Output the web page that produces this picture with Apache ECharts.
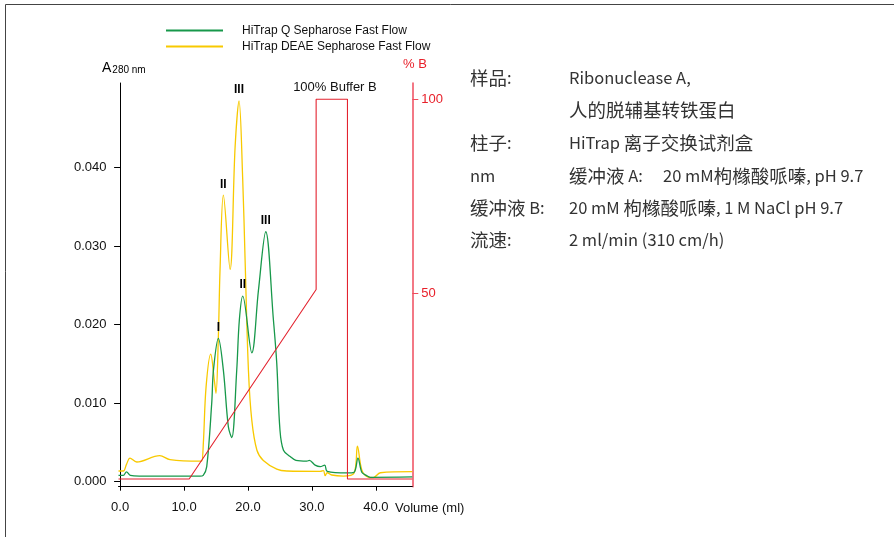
<!DOCTYPE html>
<html><head><meta charset="utf-8">
<script src="https://cdn.jsdelivr.net/npm/echarts@6/dist/echarts.min.js"></script>
<style>html,body{margin:0;padding:0;background:#fff}#c{width:894px;height:537px}</style>
</head><body><div id="c"></div>
<script>
// HiTrap Q Sepharose Fast Flow (green)
const volQ = [-0.25,0.5,1.0,1.6,3,12.5,13.0,13.55,14.33,14.6,15.37,16.15,16.93,17.46,18.24,18.65,19.18,20.6,21.64,22.78,23.98,24.5,25.0,25.55,26.6,27.5,29.2,29.6,30.5,31.3,32.0,32.4,35.5,36.6,37.2,37.8,38.5,39.1,45.7];
const absQ = [0.0008,0.0008,0.00125,0.0008,0.0007,0.0007,0.0008,0.0019,0.0100,0.0142,0.01825,0.0142,0.0070,0.0056,0.0142,0.0206,0.02364,0.01642,0.0244,0.03184,0.0206,0.0151,0.0066,0.0040,0.0032,0.0027,0.0026,0.0027,0.0021,0.0019,0.0021,0.0013,0.0011,0.0012,0.0030,0.0012,0.0008,0.00055,0.0006];
// HiTrap DEAE Sepharose Fast Flow (yellow)
const volDEAE = [-0.25,0.5,1.0,1.55,2.6,6.2,7.8,12.5,12.77,13.02,13.45,14.18,14.74,15.0,15.37,15.63,16.15,17.2,17.99,18.6,19.18,19.55,20.07,20.6,21.4,22.4,24.5,26.07,31.3,31.8,32.07,32.4,33.1,34.9,36.6,37.12,37.8,38.7,39.6,40.7,45.7];
const absDEAE = [0.00135,0.00135,0.0022,0.0030,0.0025,0.0033,0.0028,0.0026,0.0026,0.0049,0.0121,0.01625,0.0129,0.01125,0.0185,0.027,0.0365,0.02705,0.0427,0.04852,0.0384,0.0282,0.0142,0.0078,0.0040,0.0027,0.0016,0.00135,0.0013,0.0014,0.00075,0.00113,0.00084,0.0007,0.0011,0.00453,0.0015,0.0006,0.0005,0.00113,0.00126];
// Gradient %B (red)
const volB = [-0.25,10.8,30.66,30.66,35.56,35.56,45.7];
const pctB = [2.2,2.2,51,100,100,2.2,2.2];
// axis ticks
const xTicks = [0,10,20,30,40];
const yTicks = [0,0.01,0.02,0.03,0.04];
const bTicks = [50,100];
// peak annotations
const peakLabels = ['I','II','III'];
const peakQ = [[15.37,0.01825],[19.18,0.02364],[22.78,0.03184]];
const peakDEAE = [[16.15,0.0365],[18.6,0.04852]];
const peakDEAELabels = ['II','III'];
const seriesNames = ['HiTrap Q Sepharose Fast Flow','HiTrap DEAE Sepharose Fast Flow'];
const infoLabels = ['样品:','','柱子:','nm','缓冲液 B:','流速:'];
const infoValues = ['Ribonuclease A,','人的脱辅基转铁蛋白','HiTrap 离子交换试剂盒','缓冲液 A:','20 mM 枸橼酸哌嗪, 1 M NaCl pH 9.7','2 ml/min (310 cm/h)'];
const bufferAValue = '20 mM枸橼酸哌嗪, pH 9.7';

const GREEN='#17984a', YELLOW='#f8c900', RED='#e3232f', RED_AX='#ef4b5c';
const F='"Liberation Sans", Arial, sans-serif';
const CJK='"Noto Sans CJK SC", "Noto Sans", sans-serif';

const zip=(a,b)=>a.map((v,i)=>[v,b[i]]);
const mpStyle={symbol:'circle',symbolSize:0,label:{show:true,position:'top',distance:5,color:'#000',fontSize:12,fontWeight:'bold',fontFamily:F,formatter:p=>p.name}};

// split text into CJK / latin runs for rich text
const richStyles={c:{fontSize:18.5,fontFamily:CJK,fill:'#333'},l:{fontSize:16.5,fontFamily:CJK,fill:'#333'}};
function toRich(s){
  const re=/[\u3000-\u9fff\uff00-\uffef]+|[^\u3000-\u9fff\uff00-\uffef]+/g;
  return (s.match(re)||[]).map(r=>(/[\u3000-\u9fff\uff00-\uffef]/.test(r)?'{c|':'{l|')+r+'}').join('');
}

const chart = echarts.init(document.getElementById('c'), null, {renderer:'canvas'});
const rowY=[78,110,143,176,208,240];
const graphics=[
  {type:'rect',shape:{x:5.5,y:4.5,width:1000,height:1000},style:{fill:'none',stroke:'#444',lineWidth:1},silent:true},
  {type:'text',left:102,top:61,style:{text:'{a|A}{s|280 nm}',rich:{a:{fontSize:14,fontFamily:F,fill:'#000',verticalAlign:'bottom'},s:{fontSize:10,fontFamily:F,fill:'#000',padding:[6,0,0,1]}}}},
  {type:'text',left:403,top:58,style:{text:'% B',fontSize:13,fontFamily:F,fill:'#e8202a'}},
  {type:'text',left:395,top:502,style:{text:'Volume (ml)',fontSize:13,fontFamily:F,fill:'#111'}},
];
const txt=(x,y,s)=>({type:'text',x:x,y:y,style:{text:toRich(s),rich:richStyles,verticalAlign:'middle',align:'left'}});
infoLabels.forEach((t,i)=>{ if(t) graphics.push(txt(470,rowY[i],t)); });
infoValues.forEach((t,i)=>{ graphics.push(txt(569,rowY[i],t)); });
graphics.push(txt(663,rowY[3],bufferAValue));

chart.setOption({
  animation:false,
  backgroundColor:'#fff',
  grid:{left:118.5,right:481.7,top:83,bottom:50.3,containLabel:false},
  legend:{orient:'vertical',left:160,top:19.5,itemWidth:57,itemHeight:12,itemGap:4,data:seriesNames,
    itemStyle:{opacity:0},
    textStyle:{fontSize:12,fontFamily:F,color:'#111',padding:[0,0,0,14]}},
  xAxis:{type:'value',min:-0.25,max:45.7,
    axisLine:{onZero:false,lineStyle:{color:'#000',width:1}},
    axisTick:{show:true,length:4,customValues:xTicks,lineStyle:{color:'#000'}},
    axisLabel:{customValues:xTicks,formatter:v=>v.toFixed(1),fontSize:13,fontFamily:F,color:'#111',margin:14},
    splitLine:{show:false}},
  yAxis:[
    {type:'value',min:-0.00065,max:0.0508,
      axisLine:{show:true,lineStyle:{color:'#000',width:1}},
      axisTick:{show:true,length:6,customValues:yTicks,lineStyle:{color:'#000'}},
      axisLabel:{customValues:yTicks,formatter:v=>v.toFixed(3),fontSize:13,fontFamily:F,color:'#111',margin:12},
      splitLine:{show:false}},
    {type:'value',position:'right',min:0.2,max:104.2,
      axisLine:{show:true,lineStyle:{color:RED_AX,width:1.5}},
      axisTick:{show:true,length:6,customValues:bTicks,lineStyle:{color:RED_AX}},
      axisLabel:{customValues:bTicks,fontSize:13,fontFamily:F,color:'#e8202a',margin:9},
      splitLine:{show:false}}
  ],
  series:[
    {name:seriesNames[1],type:'line',data:zip(volDEAE,absDEAE),symbol:'none',smooth:0.35,
      lineStyle:{color:YELLOW,width:1.3},itemStyle:{color:YELLOW},z:3,
      markPoint:Object.assign({},mpStyle,{data:peakDEAE.map((c,i)=>({name:peakDEAELabels[i],coord:c}))})},
    {name:seriesNames[0],type:'line',data:zip(volQ,absQ),symbol:'none',smooth:0.35,
      lineStyle:{color:GREEN,width:1.3},itemStyle:{color:GREEN},z:4,
      markPoint:Object.assign({},mpStyle,{data:peakQ.map((c,i)=>({name:peakLabels[i],coord:c}))})},
    {name:'%B',type:'line',yAxisIndex:1,data:zip(volB,pctB),symbol:'none',
      lineStyle:{color:RED,width:1.1},z:5,
      markPoint:Object.assign({},mpStyle,{label:Object.assign({},mpStyle.label,{fontWeight:'normal',fontSize:13,color:'#111'}),data:[{name:'100% Buffer B',coord:[33.6,100]}]})}
  ],
  graphic:graphics
});
</script></body></html>
